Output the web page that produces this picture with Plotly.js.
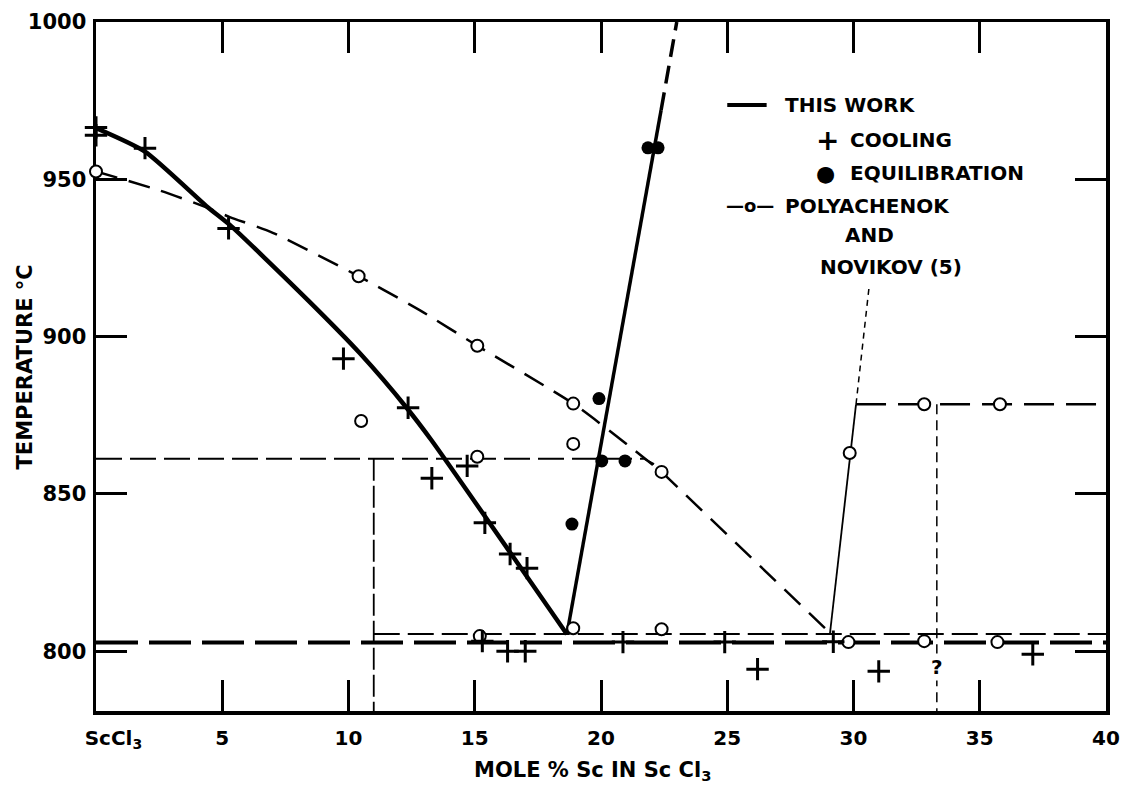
<!DOCTYPE html>
<html>
<head>
<meta charset="utf-8">
<script src="https://cdn.plot.ly/plotly-3.0.1.min.js"></script>
<style>html,body{margin:0;padding:0;background:#fff}#plot{width:1122px;height:786px}</style>
</head>
<body>
<div id="plot"></div>
<script>
// ---------- DATA ----------
// This work: liquidus (solid thick)
const twLiqX = [0, 1.94, 4.4, 5.3, 8.4, 10.46, 12.3, 13.3, 18.65];
const twLiqY = [966.3, 958.8, 941.3, 935.5, 911.5, 894.6, 877.4, 866.9, 805.4];
// This work: steep branch (solid part, then dashed continuation)
const twBranchX = [18.65, 22.38];
const twBranchY = [805.4, 972];
const twBranchDashX = [22.38, 23.0];
const twBranchDashY = [972, 1000];
// This work: eutectic line (thick long dashes)
const twEutX = [0, 40];
const twEutY = [802.8, 802.8];

// Cooling points (+)
const coolX = [0, 0, 1.94, 5.25, 9.8, 12.36, 13.3, 14.7, 15.4, 16.4, 17.07, 15.3, 16.3, 17.0, 20.87, 24.9, 26.2, 29.2, 31.0, 37.1];
const coolY = [966.5, 964, 959.9, 934.4, 893, 877.4, 855, 858.9, 840.8, 830.9, 826.4, 803.2, 800, 800, 802.9, 802.9, 794.3, 803, 793.6, 799];

// Equilibration points (filled circles)
const equilX = [18.85, 19.92, 20.03, 20.95, 21.86, 22.26];
const equilY = [840.4, 880.3, 860.5, 860.5, 960, 960];

// Polyachenok and Novikov (5): open circles
const pnX = [0, 10.4, 10.5, 15.1, 15.1, 18.9, 18.9, 15.2, 18.9, 22.4, 22.4, 29.85, 29.8, 32.8, 32.8, 35.7, 35.8];
const pnY = [952.5, 919.2, 873.2, 897.1, 861.8, 878.7, 865.9, 804.8, 807.3, 857, 807, 863, 802.9, 878.5, 803.2, 802.9, 878.5];
// P&N liquidus (dashed)
const pnLiqX = [0, 2.5, 4.4, 5.3, 7.0, 10.4, 12.8, 15.1, 18.9, 21.1, 22.4];
const pnLiqY = [952.5, 946.5, 941, 938, 933, 919.2, 908.5, 897.1, 878.7, 865.3, 857];
const pnLiq2X = [22.4, 29.07];
const pnLiq2Y = [857, 805.8];
// P&N horizontal at 861 and vertical at 11 %
const pn861X = [0, 21.7, 22.1];
const pn861Y = [861.2, 861.2, 859.5];
const pnV11X = [11, 11];
const pnV11Y = [861.2, 781];
// P&N eutectic (thin dashes)
const pnEutX = [11, 40];
const pnEutY = [805.5, 805.5];
// P&N rising branch and 878 line
const pnRiseX = [29.07, 30.1];
const pnRiseY = [805.8, 878.5];
const pnRiseDashX = [30.1, 30.62];
const pnRiseDashY = [878.5, 916];
const pn878X = [30.1, 40];
const pn878Y = [878.5, 878.5];
const pnV33X = [33.3, 33.3];
const pnV33Y = [878.5, 781];

// Axis ticks
const xTickVals = [0, 5, 10, 15, 20, 25, 30, 35, 40];
const xTickText = ['&nbsp;&nbsp;&nbsp;&nbsp;&nbsp;ScCl<sub>3</sub>', '5', '10', '15', '20', '25', '30', '35', '40'];
const yTickVals = [800, 850, 900, 950, 1000];

// ---------- PLOT ----------
const FONT = 'DejaVu Sans, Verdana, sans-serif';
function line(x, y, width, dash, shape) {
  return {x: x, y: y, mode: 'lines', type: 'scatter', hoverinfo: 'skip', showlegend: false,
          line: {color: '#000', width: width, dash: dash || 'solid', shape: shape || 'linear', smoothing: 0.6}};
}
const traces = [
  line(twEutX, twEutY, 4, '42px,11px'),
  line(pnEutX, pnEutY, 2, '26px,8px'),
  line(pn861X, pn861Y, 2, '26px,8px'),
  line(pnV11X, pnV11Y, 1.8, '22px,5px'),
  line(pnV33X, pnV33Y, 1.5, '10px,6px'),
  line(pn878X, pn878Y, 2.5, '30px,12px'),
  line(pnRiseX, pnRiseY, 1.8),
  line(pnRiseDashX, pnRiseDashY, 1.5, '6px,5px'),
  line(pnLiqX, pnLiqY, 2.5, '22px,12px', 'spline'),
  line(pnLiq2X, pnLiq2Y, 2.5, '22px,12px'),
  line(twLiqX, twLiqY, 4.5, 'solid', 'spline'),
  line(twBranchX, twBranchY, 3.5),
  line(twBranchDashX, twBranchDashY, 3.5, '18px,9px'),
  {x: pnX, y: pnY, mode: 'markers', type: 'scatter', showlegend: false, cliponaxis: false, hoverinfo: 'skip',
   marker: {symbol: 'circle', size: 12, color: '#fff', line: {color: '#000', width: 2}}},
  {x: equilX, y: equilY, mode: 'markers', type: 'scatter', showlegend: false, cliponaxis: false, hoverinfo: 'skip',
   marker: {symbol: 'circle', size: 13, color: '#000', line: {color: '#000', width: 0}}},
  {x: coolX, y: coolY, mode: 'markers', type: 'scatter', showlegend: false, cliponaxis: false, hoverinfo: 'skip',
   marker: {symbol: 'cross-thin', size: 16, color: '#000', line: {color: '#000', width: 3}}}
];

function lab(text, px, py, anchor, size) {
  return {text: text, xref: 'paper', yref: 'paper', x: px, y: py, xanchor: anchor || 'left', yanchor: 'middle',
          showarrow: false, font: {family: FONT, size: size || 20, color: '#000', weight: 'bold'}};
}

const layout = {
  width: 1122, height: 786,
  margin: {l: 96, r: 16, t: 22, b: 75},
  paper_bgcolor: '#fff', plot_bgcolor: '#fff',
  font: {family: FONT, color: '#000', weight: 'bold'},
  xaxis: {
    range: [0, 40], tickvals: xTickVals, ticktext: xTickText,
    showgrid: false, zeroline: false, showline: true, linecolor: '#000', linewidth: 3.5, mirror: 'ticks',
    ticks: 'inside', ticklen: 31, tickwidth: 3, tickcolor: '#000', layer: 'below traces',
    tickfont: {family: FONT, size: 20, color: '#000', weight: 'bold'}, ticklabelstandoff: 6
  },
  yaxis: {
    range: [781, 1000], tickvals: yTickVals,
    showgrid: false, zeroline: false, showline: true, linecolor: '#000', linewidth: 3.5, mirror: 'ticks',
    ticks: 'inside', ticklen: 31, tickwidth: 3, tickcolor: '#000', layer: 'below traces',
    tickfont: {family: FONT, size: 21, color: '#000', weight: 'bold'}, ticklabelstandoff: 2
  },
  shapes: [
    {type: 'line', xref: 'paper', yref: 'paper', x0: 0.625, x1: 0.664, y0: 0.8795, y1: 0.8795,
     line: {color: '#000', width: 4}}
  ],
  annotations: [
    // axis titles
    {text: 'MOLE % Sc IN Sc Cl<sub>3</sub>', xref: 'paper', yref: 'paper', x: 0.492, y: -0.087,
     xanchor: 'center', yanchor: 'middle', showarrow: false,
     font: {family: FONT, size: 21, color: '#000', weight: 'bold'}},
    {text: 'TEMPERATURE °C', xref: 'paper', yref: 'paper', x: -0.0703, y: 0.5, textangle: -90,
     xanchor: 'center', yanchor: 'middle', showarrow: false,
     font: {family: FONT, size: 21, color: '#000', weight: 'bold'}},
    // legend
    lab('THIS WORK', 0.680, 0.8795),
    lab('+', 0.7238, 0.8287, 'center', 28),
    lab('COOLING', 0.7446, 0.8287),
    lab('●', 0.7218, 0.7808, 'center', 22),
    lab('EQUILIBRATION', 0.7446, 0.7808),
    lab('—o—', 0.6222, 0.733, 'left', 18),
    lab('POLYACHENOK', 0.680, 0.733),
    lab('AND', 0.7396, 0.6909),
    lab('NOVIKOV (5)', 0.7149, 0.6444),
    {text: '?', xref: 'x', yref: 'y', x: 33.3, y: 795, showarrow: false, bgcolor: '#fff',
     font: {family: FONT, size: 20, color: '#000', weight: 'bold'}}
  ]
};

Plotly.newPlot('plot', traces, layout, {staticPlot: true, displayModeBar: false});
</script>
</body>
</html>
